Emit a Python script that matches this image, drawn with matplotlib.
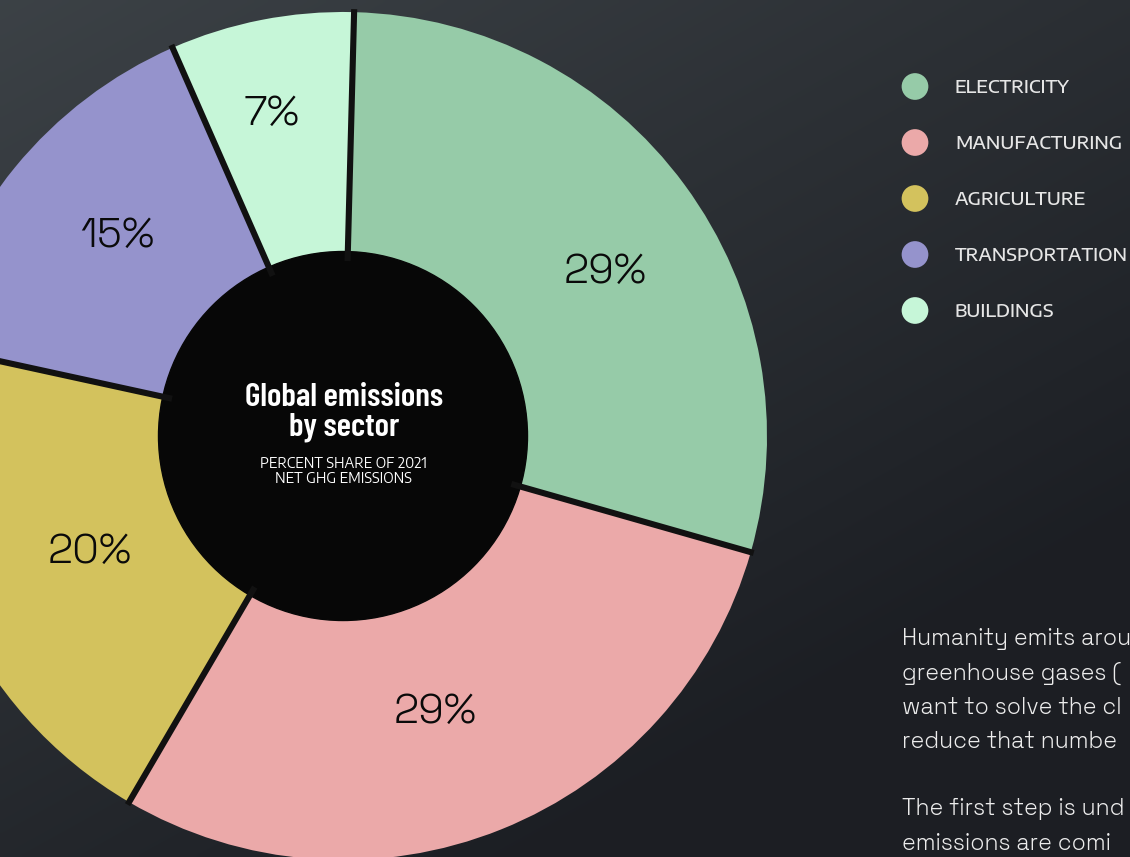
#!/usr/bin/env python
# -*- coding: utf-8 -*-
"""
Donut chart: global GHG emissions by sector (2021)
"""

import numpy as np
import matplotlib
matplotlib.use("Agg")
import matplotlib.pyplot as plt
from matplotlib.patches import Circle

#  Data
sectors = ["ELECTRICITY", "MANUFACTURING", "AGRICULTURE",
           "TRANSPORTATION", "BUILDINGS"]
shares = [29, 29, 20, 15, 7]
colors = ["#96cba8", "#eba9a9", "#d3c25d", "#9593cc", "#c6f6d8"]

title = "Global emissions\nby sector"
subtitle = "PERCENT SHARE OF 2021\nNET GHG EMISSIONS"
#  body copy, cut off at the right edge as in the original
body_lines = ["Humanity emits arou",
              "greenhouse gases (",
              "want to solve the cl",
              "reduce that numbe",
              "",
              "The first step is und",
              "emissions are comi"]

#  Layout (pixels, y up)
W, H = 1130, 857
cx, cy = 343, H - 436
r_out, r_in = 424, 184.5
start = 88.5
label_r = [312, 287, 277, 304, 334]
label_dt = [-3.6, -3.2, 0.2, -2.9, 1.2]

GROT = ["Space Grotesk", "Inter", "DejaVu Sans"]
WIDE = ["Encode Sans Semi Expanded", "DejaVu Sans"]
COND = ["Barlow Condensed", "DejaVu Sans"]

fig = plt.figure(figsize=(W / 100, H / 100), dpi=100)

#  Background gradient
bg = fig.add_axes([0, 0, 1, 1])
yy, xx = np.mgrid[0:1:200j, 0:1:260j]
t = np.clip(0.55 * xx + 0.75 * yy, 0, 1)[..., None]
c0 = np.array([0.235, 0.257, 0.275])
c1 = np.array([0.110, 0.120, 0.140])
bg.imshow(c0 * (1 - t) + c1 * t, extent=[0, W, 0, H], aspect="auto",
          origin="upper", interpolation="bilinear")
bg.set_axis_off()

ax = fig.add_axes([0, 0, 1, 1])
ax.patch.set_alpha(0)
ax.pie(shares, colors=colors, startangle=start, counterclock=False,
       radius=r_out, center=(cx, cy),
       wedgeprops=dict(width=r_out - r_in + 2, edgecolor="none"))
ax.add_patch(Circle((cx, cy), r_in, color="#070707", zorder=3))

#  Separators between wedges
bounds = start - 3.6 * np.cumsum([0] + shares[:-1])
for a in np.radians(bounds):
    ax.plot([cx + 175 * np.cos(a), cx + 427 * np.cos(a)],
            [cy + 175 * np.sin(a), cy + 427 * np.sin(a)],
            color="#111111", lw=4.4, solid_capstyle="butt", zorder=4)

#  Percent labels
mids = start - 3.6 * (np.cumsum(shares) - np.array(shares) / 2)
for v, m, r, dt in zip(shares, mids, label_r, label_dt):
    a = np.radians(m + dt)
    ax.text(cx + r * np.cos(a), cy + r * np.sin(a) - 15, f"{v}%",
            ha="center", va="baseline", fontsize=30, color="#0a0a0a",
            family=GROT, zorder=5)

#  Center text
ax.text(cx + 1, H - 435, title, ha="center", va="baseline", color="white",
        fontsize=24, fontweight=600, linespacing=0.98,
        family=COND, zorder=5)
ax.text(cx, H - 483, subtitle, ha="center", va="baseline",
        color="white", fontsize=9.8, linespacing=1.1,
        family=WIDE, zorder=5)

#  Legend
for i, (name, col) in enumerate(zip(sectors, colors)):
    y = H - (86.5 + 56 * i)
    ax.scatter([915], [y], s=370, color=col, edgecolors="none", zorder=5)
    ax.text(955, y - 6.5, name, ha="left", va="baseline", color="#e6e6e6",
            fontsize=13.2, fontweight=500, family=WIDE, zorder=5)

#  Body text
for i, line in enumerate(body_lines):
    ax.text(902, H - (645.5 + 34 * i), line, ha="left", va="baseline",
            color="#ececec", fontsize=16.5, fontweight=300, family=GROT,
            zorder=5)

ax.set_xlim(0, W)
ax.set_ylim(0, H)
ax.set_aspect("auto")
ax.set_axis_off()

fig.savefig("out.png", dpi=100)
